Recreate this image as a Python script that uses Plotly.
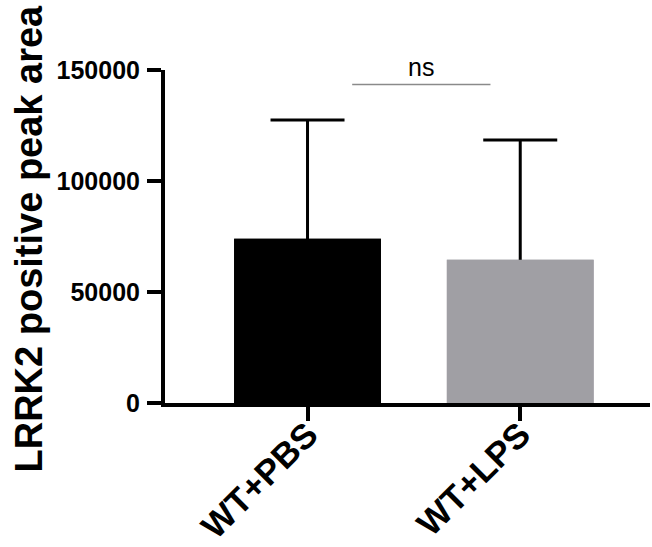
import plotly.graph_objects as go

# Group means and SD (upper error bars only)
groups = ["WT+PBS", "WT+LPS"]
means = [74000, 64500]
sds = [53500, 54000]
bar_colors = ["#000000", "#a09fa4"]
y_ticks = [0, 50000, 100000, 150000]
y_tick_labels = ["0", "50000", "100000", "150000"]
sig_label = "ns"
sig_span = [0.21, 0.86]
sig_level = 143500

FONT = "Liberation Sans, Arial, sans-serif"
xpos = list(range(len(groups)))

fig = go.Figure()
# bars carrying symmetric SD error bars; the lower half is hidden by the
# identical bars drawn on top, leaving only the upper whisker visible
fig.add_trace(go.Bar(
    x=xpos, y=means,
    marker=dict(color=bar_colors, line=dict(width=0)),
    width=0.69,
    error_y=dict(type="data", array=sds, color="#000000", thickness=3, width=37),
    showlegend=False, hoverinfo="skip",
))
fig.add_trace(go.Bar(
    x=xpos, y=means,
    marker=dict(color=bar_colors, line=dict(width=0)),
    width=0.69,
    showlegend=False,
))

# significance bracket
fig.add_shape(type="line", xref="x", yref="y",
              x0=sig_span[0], x1=sig_span[1], y0=sig_level, y1=sig_level,
              line=dict(color="#8a8a8a", width=1.6))
fig.add_annotation(x=sum(sig_span) / 2, y=sig_level, xref="x", yref="y",
                   text=sig_label, showarrow=False, yanchor="bottom", yshift=1,
                   font=dict(family=FONT, size=25, color="#000000"))

# y-axis title
fig.add_annotation(x=0, y=0.5, xref="paper", yref="paper",
                   text="<b>LRRK2 positive peak area</b>", textangle=-90,
                   showarrow=False, xanchor="center", yanchor="middle",
                   xshift=-137, yshift=-2,
                   font=dict(family=FONT, size=38, color="#000000"))

fig.update_layout(
    width=652, height=547,
    margin=dict(l=165, r=2, t=70, b=144),
    paper_bgcolor="#ffffff", plot_bgcolor="#ffffff",
    font=dict(family=FONT, color="#000000"),
    barmode="overlay",
)
fig.update_xaxes(
    range=[-0.67, 1.61], tickmode="array", tickvals=xpos,
    ticktext=[f"<b>{g}</b>" for g in groups], tickangle=-45,
    tickfont=dict(family=FONT, size=35, color="#000000"),
    showline=True, linecolor="#000000", linewidth=4,
    ticks="outside", ticklen=14, tickwidth=4, tickcolor="#000000",
    ticklabelstandoff=-21,
    showgrid=False, zeroline=False, automargin=False,
)
fig.update_yaxes(
    range=[0, 150000], tickmode="array", tickvals=y_ticks,
    ticktext=[f"<b>{t}</b>" for t in y_tick_labels],
    tickfont=dict(family=FONT, size=25, color="#000000"),
    showline=True, linecolor="#000000", linewidth=4,
    ticks="outside", ticklen=14, tickwidth=4, tickcolor="#000000",
    ticklabelstandoff=2,
    showgrid=False, zeroline=False, automargin=False,
)

fig.write_html("out.html")
